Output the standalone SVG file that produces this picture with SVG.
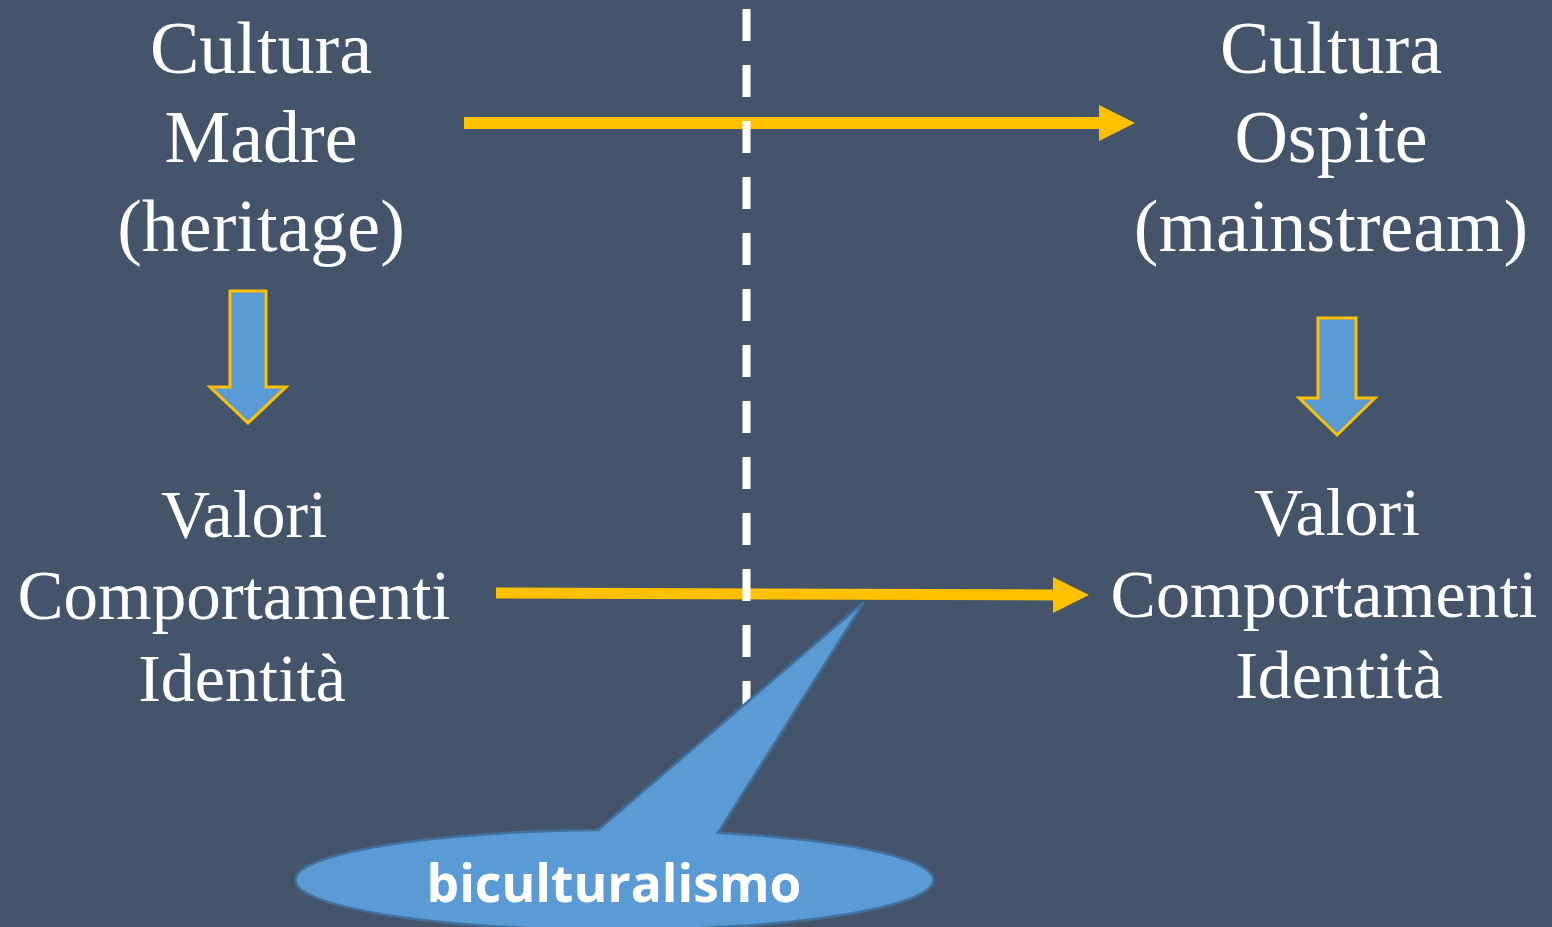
<svg xmlns="http://www.w3.org/2000/svg" width="1552" height="927" viewBox="0 0 1552 927">
<defs>
<style>
.t{font-family:"Liberation Serif","Times New Roman",serif;fill:#ffffff;text-anchor:middle}
.big{font-size:74px}
.mid{font-size:68px}
.arr{fill:#ffc000}
.down{fill:#5b9bd5;stroke:#ffc000;stroke-width:3;stroke-linejoin:miter}
.dash{stroke:#ffffff;stroke-width:8;stroke-dasharray:32 24}
</style>
</defs>
<rect width="1552" height="927" fill="#44546a"/>
<g id="connectors">
<line x1="464" y1="123" x2="1101" y2="123" stroke="#ffc000" stroke-width="12"/>
<polygon class="arr" points="1099,105 1135,123 1099,141"/>
<line x1="496" y1="593" x2="1055" y2="595" stroke="#ffc000" stroke-width="11"/>
<polygon class="arr" points="1053,577 1089,595 1053,613"/>
</g>
<line id="divider" class="dash" x1="746.5" y1="9" x2="746.5" y2="720"/>
<g id="down-left">
<polygon class="down" points="230,291 266,291 266,387 286,387 248,423 210,387 230,387"/>
</g>
<g id="down-right">
<polygon class="down" points="1318,318 1356,318 1356,398 1375,398 1337,435 1299,398 1318,398"/>
</g>
<g id="cultura-madre">
<text class="t big" x="261" y="73">Cultura</text>
<text class="t big" x="261" y="162">Madre</text>
<text class="t big" x="261" y="251">(heritage)</text>
</g>
<g id="cultura-ospite">
<text class="t big" x="1331" y="73">Cultura</text>
<text class="t big" x="1331" y="162">Ospite</text>
<text class="t big" x="1331" y="251">(mainstream)</text>
</g>
<g id="valori-left">
<text class="t mid" x="244" y="537">Valori</text>
<text class="t mid" x="234" y="619" style="font-size:69px">Comportamenti</text>
<text class="t mid" x="242" y="701">Identità</text>
</g>
<g id="valori-right">
<text class="t mid" x="1337" y="535">Valori</text>
<text class="t mid" x="1324" y="617">Comportamenti</text>
<text class="t mid" x="1339" y="698">Identità</text>
</g>
<g id="biculturalismo">
<path d="M598,830.06 L864,602 L718,832.7 A319,50 0 1 1 598,830.06 Z" fill="#5b9bd5" stroke="#41719c" stroke-width="2.5"/>
<text x="614" y="902" textLength="375" lengthAdjust="spacingAndGlyphs" style="font-family:'Open Sans','Noto Sans',sans-serif;font-weight:bold;font-size:52px;fill:#ffffff;text-anchor:middle">biculturalismo</text>
</g>
</svg>
